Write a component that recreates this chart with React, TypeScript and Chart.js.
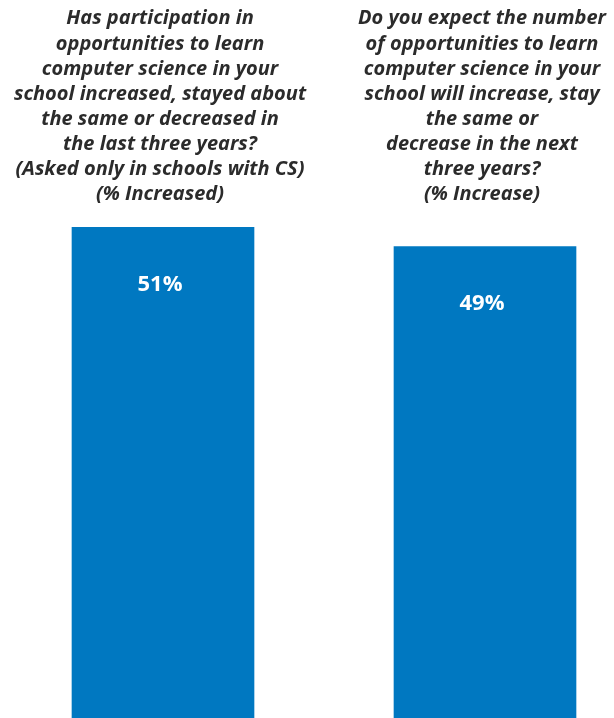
import React, { useEffect, useRef } from "react";
import { Chart, registerables } from "chart.js";

Chart.register(...registerables);

const categories: string[][] = [
  [
    "Has participation in",
    "opportunities to learn",
    "computer science in your",
    "school increased, stayed about",
    "the same or decreased in",
    "the last three years?",
    "(Asked only in schools with CS)",
    "(% Increased)",
  ],
  [
    "Do you expect the number",
    "of opportunities to learn",
    "computer science in your",
    "school will increase, stay",
    "the same or",
    "decrease in the next",
    "three years?",
    "(% Increase)",
  ],
];
const values: number[] = [51, 49];
const valueLabels: string[] = ["51%", "49%"];

const BAR_COLOR = "#0078C1";
const TEXT_COLOR = "#2b2b2b";

const labelPlugin = {
  id: "barValueLabels",
  afterDatasetsDraw(chart: any) {
    const ctx = chart.ctx;
    const meta = chart.getDatasetMeta(0);
    ctx.save();
    ctx.fillStyle = "#ffffff";
    ctx.font = "bold 22px 'Open Sans'";
    ctx.textAlign = "center";
    ctx.textBaseline = "middle";
    meta.data.forEach((bar: any, i: number) => {
      ctx.fillText(valueLabels[i], bar.x - 3, bar.y + 57);
    });
    ctx.restore();
  },
};

export default function App() {
  const ref = useRef<HTMLCanvasElement | null>(null);
  useEffect(() => {
    if (!ref.current) return;
    const chart = new Chart(ref.current, {
      type: "bar",
      data: {
        labels: categories,
        datasets: [
          {
            data: values,
            backgroundColor: BAR_COLOR,
            borderWidth: 0,
            barThickness: 182,
            clip: false as any,
          },
        ],
      },
      options: {
        animation: false,
        responsive: false,
        maintainAspectRatio: false,
        layout: { padding: { left: 163, right: 129, top: 0, bottom: 0 } },
        plugins: {
          legend: { display: false },
          tooltip: { enabled: false },
          title: { display: false },
        },
        scales: {
          x: {
            position: "top",
            offset: false,
            grid: { display: false, drawTicks: false },
            border: { display: false },
            ticks: {
              color: TEXT_COLOR,
              maxRotation: 0,
              minRotation: 0,
              autoSkip: false,
              padding: 3,
              labelOffset: -3,
              font: {
                family: "'Open Sans'",
                size: 20,
                style: "italic",
                weight: "bold",
                lineHeight: 1.255,
              },
            },
            afterFit: (axis: any) => {
              axis.height = 210;
            },
          },
          y: {
            display: false,
            min: 0,
            max: 52.8,
          },
        },
      },
      plugins: [labelPlugin],
    });
    return () => chart.destroy();
  }, []);
  return (
    <div style={{ position: "absolute", left: 0, top: 0, width: 614, height: 718, background: "#fff" }}>
      <canvas ref={ref} width={614} height={718} style={{ display: "block" }} />
    </div>
  );
}
